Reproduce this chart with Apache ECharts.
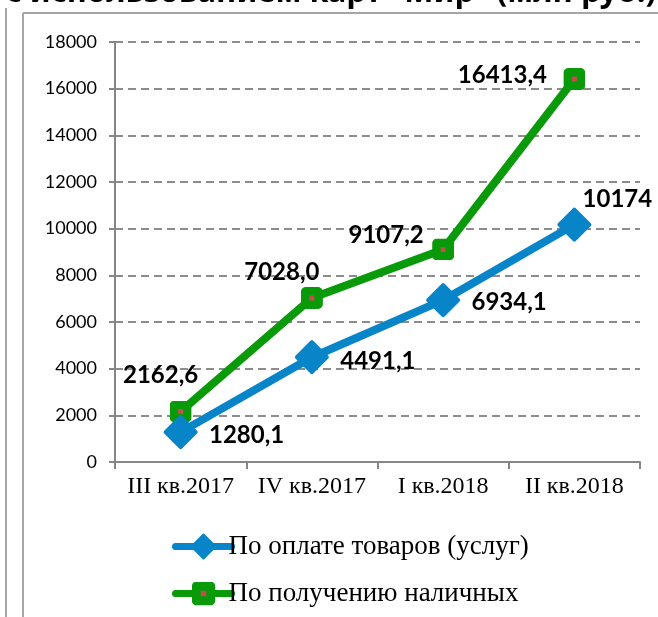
<!DOCTYPE html>
<html>
<head>
<meta charset="utf-8">
<script src="https://cdn.jsdelivr.net/npm/echarts@6/dist/echarts.min.js"></script>
<style>
  html, body {margin: 0; padding: 0; background: #fff;}
  #chart {width: 658px; height: 617px;}
</style>
</head>
<body>
<div id="chart"></div>
<script>
const categories = ['III кв.2017', 'IV кв.2017', 'I кв.2018', 'II кв.2018'];
const paymentValues = [1280.1, 4491.1, 6934.1, 10174];
const paymentLabels = ['1280,1', '4491,1', '6934,1', '10174'];
const cashValues = [2162.6, 7028.0, 9107.2, 16413.4];
const cashLabels = ['2162,6', '7028,0', '9107,2', '16413,4'];
const yTicks = [0, 2000, 4000, 6000, 8000, 10000, 12000, 14000, 16000, 18000];

// where each data label sits relative to its point
const paymentOffsets = [[66, 3], [66, 4], [66, 2], [43, -25]];
const cashOffsets = [[-20, -36], [-30, -26], [-57, -14], [-72, -4]];

const blue = '#0785C8';
const green = '#089A08';

const greenSvg = "<svg xmlns='http://www.w3.org/2000/svg' width='22' height='22'>" +
    "<rect x='0' y='0' width='22' height='22' rx='5' ry='5' fill='" + green + "'/>" +
    "<rect x='8.5' y='8.5' width='5' height='5' fill='#C0504D'/></svg>";
const greenSymbol = 'image://data:image/svg+xml;charset=utf-8,' + encodeURIComponent(greenSvg);

const labelStyle = {
    show: true,
    position: 'inside',
    fontFamily: 'Lato',
    fontWeight: 'bold',
    fontSize: 24,
    color: '#000'
};

const makeData = (values, labels, offsets) => values.map((v, i) => ({
    value: v,
    label: Object.assign({}, labelStyle, {formatter: labels[i], offset: offsets[i]})
}));

const myChart = echarts.init(document.getElementById('chart'));
myChart.setOption({
    animation: false,
    grid: {left: 115, right: 18, top: 42, bottom: 155},
    graphic: [
        {type: 'line', shape: {x1: 6, y1: 8, x2: 6, y2: 617}, style: {stroke: '#a6a6a6', lineWidth: 2}},
        {type: 'line', shape: {x1: 23, y1: 13, x2: 23, y2: 617}, style: {stroke: '#a6a6a6', lineWidth: 2}},
        {type: 'line', shape: {x1: 23, y1: 13, x2: 658, y2: 13}, style: {stroke: '#a6a6a6', lineWidth: 2}},
        {
            type: 'text', right: 2, top: -22,
            style: {
                text: 'Объем операций с использованием карт "Мир" (млн руб.)',
                fontFamily: 'Noto Sans', fontWeight: 'bold', fontSize: 31, fill: '#000'
            }
        }
    ],
    legend: {
        orient: 'vertical',
        left: 167,
        top: 528,
        itemWidth: 56,
        itemHeight: 30,
        itemGap: 20,
        lineStyle: {width: 7, cap: 'round'},
        textStyle: {fontFamily: 'Liberation Serif', fontSize: 27, color: '#000', padding: [0, 0, 0, -8]},
        data: ['По оплате товаров (услуг)', 'По получению наличных']
    },
    xAxis: {
        type: 'category',
        data: categories,
        boundaryGap: true,
        axisLine: {lineStyle: {color: '#868686', width: 2}},
        axisTick: {show: true, length: 7, lineStyle: {color: '#868686', width: 2}},
        axisLabel: {
            fontFamily: 'Liberation Serif', fontSize: 24, color: '#000', margin: 13,
            interval: 0, hideOverlap: false
        }
    },
    yAxis: {
        type: 'value',
        min: yTicks[0],
        max: yTicks[yTicks.length - 1],
        interval: yTicks[1] - yTicks[0],
        axisLine: {show: true, lineStyle: {color: '#868686', width: 2}},
        axisTick: {show: true, length: 6, lineStyle: {color: '#868686', width: 2}},
        axisLabel: {fontFamily: 'Lato', fontSize: 18, color: '#000', margin: 18, formatter: (v) => String(v)},
        splitLine: {lineStyle: {color: '#8c8c8c', width: 2, type: [8, 5]}}
    },
    series: [
        {
            name: 'По оплате товаров (услуг)',
            type: 'line',
            data: makeData(paymentValues, paymentLabels, paymentOffsets),
            symbol: 'diamond',
            symbolSize: [30, 30],
            color: blue,
            lineStyle: {width: 8, color: blue, cap: 'round', join: 'round'},
            itemStyle: {color: blue, borderColor: blue, borderWidth: 4, borderJoin: 'round'},
            z: 3
        },
        {
            name: 'По получению наличных',
            type: 'line',
            data: makeData(cashValues, cashLabels, cashOffsets),
            symbol: greenSymbol,
            symbolSize: 22,
            color: green,
            lineStyle: {width: 8, color: green, cap: 'round', join: 'round'},
            itemStyle: {color: green},
            z: 2
        }
    ]
});
</script>
</body>
</html>
